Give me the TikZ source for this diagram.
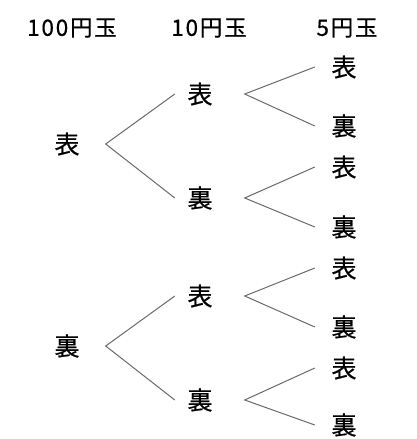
\documentclass[tikz,border=0pt]{standalone}
\usepackage{fontspec}
\newfontfamily\jpfont[FakeBold=0.6]{Noto Sans CJK JP}
\newfontfamily\jphead[LetterSpace=8,FakeBold=0.5]{Noto Sans CJK JP}
\definecolor{branchgray}{RGB}{105,105,105}
\tikzset{
  coin/.style={font=\jphead\fontsize{22.5}{25}\selectfont, inner sep=0pt},
  face/.style={font=\jpfont\fontsize{25}{28}\selectfont, inner sep=0pt},
  branch/.style={draw=branchgray, line width=1pt}
}

\begin{document}
\begin{tikzpicture}[x=1pt,y=-1pt]
			\useasboundingbox (0,0) rectangle (417,439);
			% headings
			\node[coin] (h100) at (72,28) {100円玉};
			\node[coin] (h10) at (209,28) {10円玉};
			\node[coin] (h5) at (347,28) {5円玉};

			% 100円玉
			\node[face] (a) at (67,144) {表};
			\node[face] (b) at (67,346) {裏};

			% 10円玉
			\node[face] (aa) at (200,94) {表};
			\node[face] (ab) at (200,198) {裏};
			\node[face] (ba) at (200,296) {表};
			\node[face] (bb) at (200,400) {裏};

			% 5円玉
			\node[face] (aaa) at (344,67) {表};
			\node[face] (aab) at (344,126) {裏};
			\node[face] (aba) at (344,167) {表};
			\node[face] (abb) at (344,227) {裏};
			\node[face] (baa) at (344,268) {表};
			\node[face] (bab) at (344,327) {裏};
			\node[face] (bba) at (344,368) {表};
			\node[face] (bbb) at (344,425) {裏};

			\draw[branch] ([xshift=-12.5pt]aa.west) -- ([xshift=26pt]a.east) -- ([xshift=-12.5pt]ab.west);
			\draw[branch] ([xshift=-12.5pt]ba.west) -- ([xshift=26pt]b.east) -- ([xshift=-12.5pt]bb.west);

			\draw[branch] ([xshift=-16.5pt]aaa.west) -- ([xshift=32pt]aa.east) -- ([xshift=-16.5pt]aab.west);
			\draw[branch] ([xshift=-16.5pt]aba.west) -- ([xshift=32pt]ab.east) -- ([xshift=-16.5pt]abb.west);
			\draw[branch] ([xshift=-16.5pt]baa.west) -- ([xshift=32pt]ba.east) -- ([xshift=-16.5pt]bab.west);
			\draw[branch] ([xshift=-16.5pt]bba.west) -- ([xshift=32pt]bb.east) -- ([xshift=-16.5pt]bbb.west);
\end{tikzpicture}
\end{document}
